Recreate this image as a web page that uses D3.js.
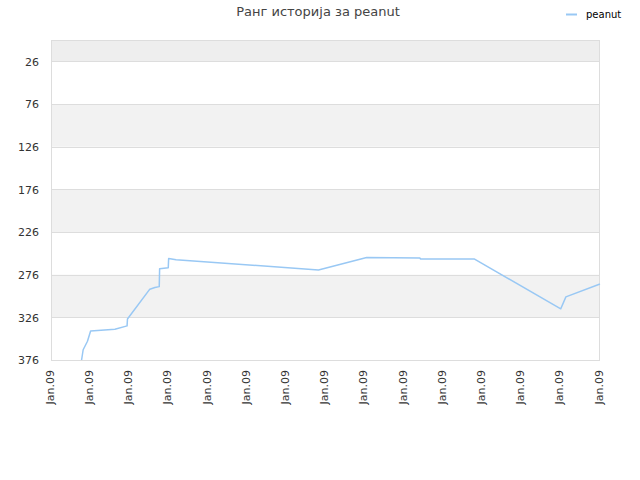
<!DOCTYPE html>
<html>
<head>
<meta charset="utf-8">
<script src="https://cdn.jsdelivr.net/npm/d3@7"></script>
<style>
body { margin: 0; background: #fff; }
text { font-family: "DejaVu Sans", sans-serif; }
</style>
</head>
<body>
<svg id="chart" width="640" height="480"></svg>
<script>
// Data (time position in tick units, rank value)
const timePos = [0.78, 0.82, 0.93, 1.01, 1.63, 1.94, 1.95, 2.52, 2.65, 2.76, 2.77, 2.99, 3.00, 3.19, 6.82, 8.05, 9.41, 9.42, 10.79, 13.00, 13.13, 14.00];
const rankVals = [376, 364, 354, 342, 340, 336, 328, 293, 291, 290, 269, 268, 257, 258.5, 270.5, 256, 256.5, 257.5, 257.5, 316, 302, 287];
const xTickLabels = ["Jan.09","Jan.09","Jan.09","Jan.09","Jan.09","Jan.09","Jan.09","Jan.09","Jan.09","Jan.09","Jan.09","Jan.09","Jan.09","Jan.09","Jan.09"];
const yTicks = [26, 76, 126, 176, 226, 276, 326, 376];
const seriesName = "peanut";
const titleText = "Ранг историја за peanut";

const svg = d3.select("#chart");
const m = { left: 51, right: 600, top: 40, bottom: 360 };

const x = d3.scaleLinear().domain([0, xTickLabels.length - 1]).range([m.left, m.right]);
const y = d3.scaleLinear().domain([1, 376]).range([m.top, m.bottom]);

// background bands
const bandEdges = [1].concat(yTicks);
for (let i = 0; i < bandEdges.length - 1; i++) {
  if (i % 2 === 0) {
    svg.append("rect")
      .attr("x", m.left).attr("width", m.right - m.left)
      .attr("y", y(bandEdges[i])).attr("height", y(bandEdges[i + 1]) - y(bandEdges[i]))
      .attr("fill", i === 0 ? "#eeeeee" : "#f2f2f2");
  }
}

// gridlines
svg.append("g").selectAll("line").data(yTicks).join("line")
  .attr("x1", m.left).attr("x2", m.right)
  .attr("y1", d => Math.round(y(d)) + 0.5).attr("y2", d => Math.round(y(d)) + 0.5)
  .attr("stroke", "#dddddd").attr("stroke-width", 1);

// frame
svg.append("rect")
  .attr("x", m.left + 0.5).attr("y", m.top + 0.5)
  .attr("width", m.right - m.left - 1).attr("height", m.bottom - m.top)
  .attr("fill", "none").attr("stroke", "#dddddd");

// y axis
const yAxis = d3.axisLeft(y).tickValues(yTicks).tickSize(0).tickPadding(12);
const gy = svg.append("g").attr("transform", `translate(${m.left},0)`).call(yAxis);
gy.select(".domain").remove();
gy.selectAll("text").attr("font-size", 11).attr("fill", "#333").attr("dy", "0.35em");

// x axis
const xAxis = d3.axisBottom(x).tickValues(d3.range(xTickLabels.length))
  .tickFormat((d, i) => xTickLabels[i]).tickSize(0);
const gx = svg.append("g").attr("transform", `translate(0,${m.bottom})`).call(xAxis);
gx.select(".domain").remove();
gx.selectAll("text")
  .attr("font-size", 11).attr("fill", "#333")
  .attr("text-anchor", "end")
  .attr("transform", "rotate(-90)")
  .attr("x", -10).attr("y", 0).attr("dy", "0.2em");

// line
const line = d3.line().x((d, i) => x(timePos[i])).y(d => y(d));
svg.append("path").datum(rankVals)
  .attr("d", line)
  .attr("fill", "none")
  .attr("stroke", "#99c8f4")
  .attr("stroke-width", 1.5)
  .attr("stroke-linejoin", "round");

// title
svg.append("text").attr("x", 318).attr("y", 16)
  .attr("text-anchor", "middle").attr("font-size", 13).attr("fill", "#444")
  .text(titleText);

// legend
svg.append("line").attr("x1", 566).attr("x2", 577).attr("y1", 14.5).attr("y2", 14.5)
  .attr("stroke", "#99c8f4").attr("stroke-width", 2);
svg.append("text").attr("x", 586).attr("y", 18)
  .attr("font-size", 10).attr("fill", "#000").text(seriesName);
</script>
</body>
</html>
